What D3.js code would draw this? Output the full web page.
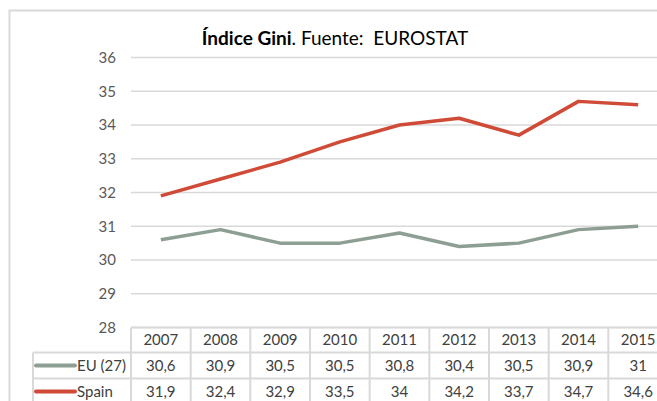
<!DOCTYPE html>
<html><head><meta charset="utf-8">
<script src="https://cdn.jsdelivr.net/npm/d3@7"></script>
<style>body{margin:0;background:#fff;overflow:hidden}svg{display:block}</style>
</head><body>
<svg id="c" width="657" height="401"></svg>
<script>
const years = ["2007","2008","2009","2010","2011","2012","2013","2014","2015"];
const euValues = [30.6,30.9,30.5,30.5,30.8,30.4,30.5,30.9,31];
const spainValues = [31.9,32.4,32.9,33.5,34,34.2,33.7,34.7,34.6];
const seriesNames = ["EU (27)","Spain"];
const yTicks = [28,29,30,31,32,33,34,35,36];

(function(){
const series = [
  {name: seriesNames[0], values: euValues, color: "#8d9e92"},
  {name: seriesNames[1], values: spainValues, color: "#d04b37"}
];
const fmt = v => String(v).replace(".", ",");

const svg = d3.select("#c");
const font = "Lato, 'Open Sans', sans-serif";
const gridC = "#d9d9d9";
const fs = 15;

svg.append("path").attr("d","M9.5,420 V10.5 H700").attr("fill","none").attr("stroke",gridC).attr("stroke-width",2);

const pLeft = 131, pRight = 668, pTop = 57.5, pBottom = 327.5;
const x = d3.scaleBand().domain(years).range([pLeft,pRight]);
const y = d3.scaleLinear().domain([28,36]).range([pBottom,pTop]);

svg.append("g").selectAll("line").data(yTicks).join("line")
  .attr("x1",pLeft).attr("x2",pRight)
  .attr("y1",d=>y(d)).attr("y2",d=>y(d))
  .attr("stroke",gridC).attr("stroke-width",1.5);

const yAxis = d3.axisLeft(y).tickValues(yTicks).tickSize(0).tickPadding(0);
const gy = svg.append("g").attr("transform","translate(116,0)").call(yAxis);
gy.select(".domain").remove();
gy.selectAll("text").attr("font-family",font).attr("font-size",fs).attr("fill","#595959");

const line = d3.line().x((d,i)=>x(years[i])+x.bandwidth()/2).y(d=>y(d));
series.forEach(s=>{
  svg.append("path").datum(s.values).attr("d",line)
    .attr("fill","none").attr("stroke",s.color).attr("stroke-width",3.5)
    .attr("stroke-linejoin","round");
});

const rowTops = [327.5, 352.5, 378.5, 404.5];
const tg = svg.append("g");
const tableLeft = 33;
tg.append("line").attr("x1",pLeft).attr("x2",pRight).attr("y1",rowTops[0]).attr("y2",rowTops[0]).attr("stroke",gridC).attr("stroke-width",2);
[1,2,3].forEach(i=>{
  tg.append("line").attr("x1",tableLeft).attr("x2",pRight).attr("y1",rowTops[i]).attr("y2",rowTops[i]).attr("stroke",gridC).attr("stroke-width",2);
});
tg.append("line").attr("x1",tableLeft).attr("x2",tableLeft).attr("y1",rowTops[1]).attr("y2",rowTops[3]).attr("stroke",gridC).attr("stroke-width",2);
const vx = years.map(d=>x(d)).concat([pRight]);
tg.selectAll("line.v").data(vx).join("line").attr("class","v")
  .attr("x1",d=>d).attr("x2",d=>d).attr("y1",rowTops[0]).attr("y2",rowTops[3])
  .attr("stroke",gridC).attr("stroke-width",2);

tg.selectAll("text.yr").data(years).join("text").attr("class","yr")
  .attr("x",d=>x(d)+x.bandwidth()/2).attr("y",(rowTops[0]+rowTops[1])/2)
  .attr("dy","0.36em").attr("text-anchor","middle")
  .attr("font-family",font).attr("font-size",fs).attr("fill","#404040").text(d=>d);

series.forEach((s,si)=>{
  const cy = (rowTops[si+1]+rowTops[si+2])/2;
  tg.append("line").attr("x1",36).attr("x2",75).attr("y1",cy).attr("y2",cy)
    .attr("stroke",s.color).attr("stroke-width",4).attr("stroke-linecap","round");
  tg.append("text").attr("x",77).attr("y",cy).attr("dy","0.36em")
    .attr("font-family",font).attr("font-size",fs).attr("fill","#404040").text(s.name);
  tg.selectAll(null).data(s.values).join("text")
    .attr("x",(d,i)=>x(years[i])+x.bandwidth()/2).attr("y",cy).attr("dy","0.36em")
    .attr("text-anchor","middle").attr("font-family",font).attr("font-size",fs).attr("fill","#404040")
    .text(d=>fmt(d));
});

const t = svg.append("text").attr("x",335).attr("y",45).attr("text-anchor","middle")
  .attr("font-family",font).attr("font-size",19).attr("fill","#000")
  .attr("xml:space","preserve");
t.append("tspan").attr("font-weight","bold").text("Índice Gini");
t.append("tspan").text(". Fuente:  EUROSTAT");
})();
</script>
</body></html>
